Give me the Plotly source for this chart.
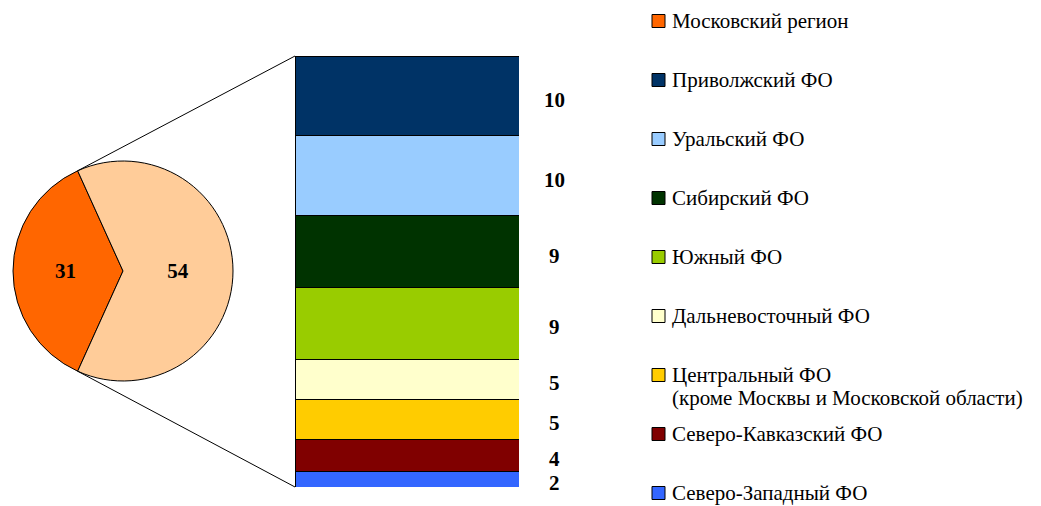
"""
Pie-of-bar chart: Moscow region vs. the other federal districts
"""

import math
import plotly.graph_objects as go

# page is 1041x506 with the default 8px body margin around the plot
PAGE_MARGIN = 8
W, H = 1041 - 2 * PAGE_MARGIN, 506 - PAGE_MARGIN

# pie part
pie_labels = ['Московский регион', 'Прочие регионы']
pie_values = [31, 54]
pie_colors = ['#FF6600', '#FFCC99']

# bar part (bottom to top), sums up to the second pie slice
bar_labels = [
    'Северо-Западный ФО',
    'Северо-Кавказский ФО',
    'Центральный ФО<br>(кроме Москвы и Московской области)',
    'Дальневосточный ФО',
    'Южный ФО',
    'Сибирский ФО',
    'Уральский ФО',
    'Приволжский ФО',
]
bar_values = [2, 4, 5, 5, 9, 9, 10, 10]
bar_colors = ['#3366FF', '#800000', '#FFCC00', '#FFFFCC',
              '#99CC00', '#003300', '#99CCFF', '#003366']

FONT = 'Liberation Serif'


def px_x(x):
    # page pixel -> paper coordinate
    return (x - PAGE_MARGIN) / W


def px_y(y):
    return 1 - (y - PAGE_MARGIN) / H


# geometry in page pixels
pie_cx, pie_cy, pie_r = 123, 271, 110
bar_left, bar_right, bar_top, bar_bottom = 295, 519, 56, 487

fig = go.Figure()

# pie, first slice centred on the left side
share = pie_values[0] / sum(pie_values) * 360
rotation = 270 - share / 2
fig.add_trace(go.Pie(
    labels=pie_labels,
    values=pie_values,
    sort=False,
    direction='clockwise',
    rotation=rotation,
    marker=dict(colors=pie_colors, line=dict(color='black', width=1)),
    textinfo='value',
    textposition='inside',
    insidetextorientation='horizontal',
    textfont=dict(family=FONT, size=21, color='black', weight='bold'),
    domain=dict(x=[px_x(pie_cx - pie_r), px_x(pie_cx + pie_r)],
                y=[px_y(pie_cy + pie_r), px_y(pie_cy - pie_r)]),
    showlegend=False,
    hoverinfo='label+value'
))

# stacked bar
for name, val, col in zip(bar_labels, bar_values, bar_colors):
    fig.add_trace(go.Bar(
        x=[0],
        y=[val],
        name=name,
        width=1,
        marker=dict(color=col, line=dict(color='black', width=1)),
        showlegend=False,
        hovertemplate=name.replace('<br>', ' ') + ': %{y}<extra></extra>'
    ))

annotations = []
shapes = []

# value labels to the right of the bar
cum = 0
for val in bar_values:
    annotations.append(dict(
        x=px_x(554), xref='paper', y=cum + val / 2, yref='y',
        text=f'<b>{val}</b>', showarrow=False, yshift=-4,
        font=dict(family=FONT, size=21, color='black')
    ))
    cum += val

# connector lines from the pie slice edges to the bar corners
for ang, by in [(rotation, bar_bottom), (rotation + share, bar_top)]:
    a = math.radians(ang)
    sx = pie_cx + pie_r * math.sin(a)
    sy = pie_cy - pie_r * math.cos(a)
    shapes.append(dict(
        type='line', xref='paper', yref='paper',
        x0=px_x(sx), y0=px_y(sy), x1=px_x(bar_left), y1=px_y(by),
        line=dict(color='black', width=1)
    ))

# manual legend
legend_names = [pie_labels[0]] + bar_labels[::-1]
legend_colors = [pie_colors[0]] + bar_colors[::-1]
for i, (name, col) in enumerate(zip(legend_names, legend_colors)):
    y = 21 + i * 59
    shapes.append(dict(
        type='rect', xref='paper', yref='paper',
        x0=px_x(652), x1=px_x(665), y0=px_y(y - 6.5), y1=px_y(y + 6.5),
        fillcolor=col, line=dict(color='black', width=1)
    ))
    for j, line in enumerate(name.split('<br>')):
        annotations.append(dict(
            x=px_x(670), y=px_y(y + j * 23), xref='paper', yref='paper',
            xanchor='left', yanchor='middle', align='left',
            text=line, showarrow=False,
            font=dict(family=FONT, size=21, color='black')
        ))

fig.update_layout(
    barmode='stack',
    width=W,
    height=H,
    margin=dict(l=0, r=0, t=0, b=0),
    paper_bgcolor='white',
    plot_bgcolor='white',
    xaxis=dict(domain=[px_x(bar_left), px_x(bar_right)], range=[-0.5, 0.5],
               visible=False, fixedrange=True),
    yaxis=dict(domain=[px_y(bar_bottom), px_y(bar_top)], range=[0, sum(bar_values)],
               visible=False, fixedrange=True),
    annotations=annotations,
    shapes=shapes,
    showlegend=False
)

fig.write_html("out.html")
